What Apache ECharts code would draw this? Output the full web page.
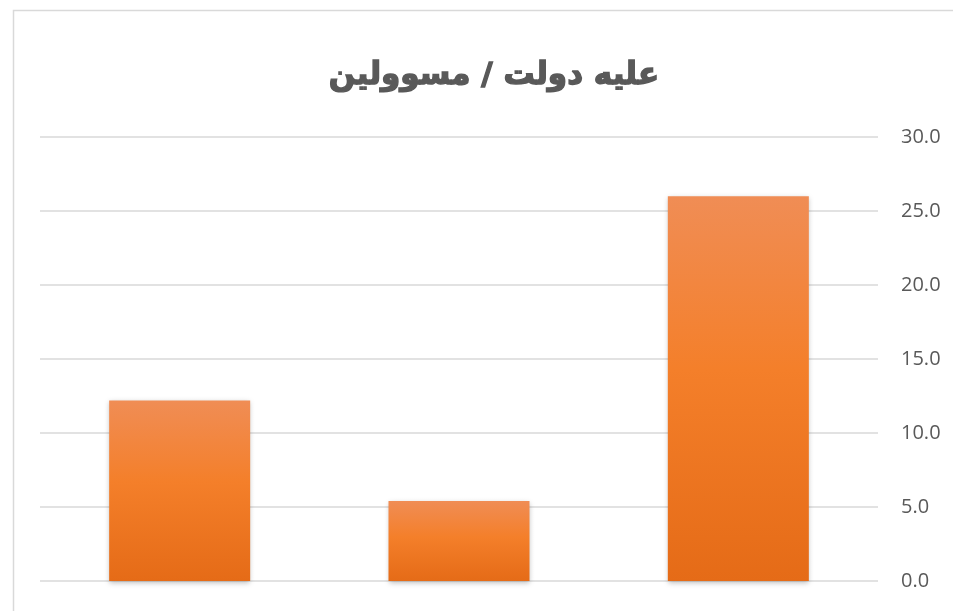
<!DOCTYPE html>
<html>
<head>
<meta charset="utf-8">
<script src="https://cdn.jsdelivr.net/npm/echarts@6/dist/echarts.min.js"></script>
<style>html,body{margin:0;padding:0;background:#fff;}#chart{width:953px;height:611px;}</style>
</head>
<body>
<div id="chart"></div>
<script>
const titleText = 'علیه دولت / مسوولین';
const categories = ['A', 'B', 'C'];
const values = [12.2, 5.4, 26.0];
const yMin = 0, yMax = 30, yInterval = 5;

const chart = echarts.init(document.getElementById('chart'));
chart.setOption({
  animation: false,
  backgroundColor: '#fff',
  graphic: [{
    type: 'rect', left: 11, top: 8,
    shape: { width: 960, height: 620 },
    style: { fill: 'none', stroke: '#d9d9d9', lineWidth: 1.5 },
    silent: true, z: -1
  }],
  title: {
    text: titleText, left: 489, textAlign: 'center', top: 55,
    textStyle: { fontFamily: 'DejaVu Sans', fontWeight: 'bold', fontSize: 31, color: '#595959',
      textBorderColor: '#595959', textBorderWidth: 1.4 }
  },
  grid: { left: 40, right: 75, top: 137, bottom: 30, containLabel: false },
  xAxis: {
    type: 'category', data: categories,
    axisLine: { show: false }, axisTick: { show: false }, axisLabel: { show: false }
  },
  yAxis: {
    type: 'value', position: 'right', min: yMin, max: yMax, interval: yInterval,
    axisLine: { show: false }, axisTick: { show: false },
    axisLabel: {
      formatter: v => v.toFixed(1), fontFamily: 'Open Sans', fontSize: 20, color: '#595959', margin: 23
    },
    splitLine: { lineStyle: { color: '#d9d9d9', width: 1.5 } }
  },
  series: [{
    type: 'bar', data: values, barWidth: 141,
    itemStyle: {
      color: new echarts.graphic.LinearGradient(0, 0, 0, 1, [
        { offset: 0, color: '#F08D55' },
        { offset: 0.45, color: '#F47F2A' },
        { offset: 1, color: '#E56B17' }
      ]),
      shadowColor: 'rgba(0,0,0,0.25)', shadowBlur: 5, shadowOffsetX: 0, shadowOffsetY: 2
    }
  }]
});
</script>
</body>
</html>
